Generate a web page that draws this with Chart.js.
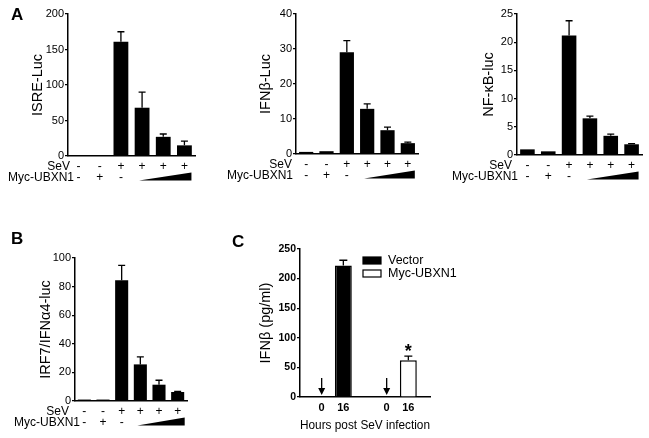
<!DOCTYPE html>
<html lang="en">
<head>
<meta charset="UTF-8">
<title>UBXN1 reporter assays</title>
<script src="https://cdn.jsdelivr.net/npm/chart.js"></script>
<style>
    body { margin: 0; background: #fff; }
    #fig { position: relative; width: 649px; height: 438px; overflow: hidden; }
    #fig canvas { position: absolute; }
</style>
</head>
<body>
<div id="fig">
    <canvas id="isre" width="201" height="190" style="left:0;top:0"></canvas>
    <canvas id="ifnb" width="209" height="190" style="left:215px;top:0"></canvas>
    <canvas id="nfkb" width="219" height="190" style="left:430px;top:0"></canvas>
    <canvas id="irf7" width="200" height="223" style="left:0;top:215px"></canvas>
    <canvas id="elisa" width="429" height="223" style="left:220px;top:215px"></canvas>
</div>
<script>
// treatment rows under panels A and B
const sevSigns = ['-', '-', '+', '+', '+', '+'];
const mycSigns = ['-', '+', '-', '', '', ''];
const doseRamp = [3, 5]; // Myc-UBXN1 increasing doses over these groups
const rowNames = ['SeV', 'Myc-UBXN1'];

// panel A / B values (mean, SEM)
const isreMean = [1, 0.5, 161, 68, 27, 15];
const isreErr  = [0, 0, 14, 22, 4, 6];
const ifnbMean = [0.6, 0.8, 29.1, 12.9, 6.8, 3.1];
const ifnbErr  = [0, 0, 3.3, 1.4, 0.9, 0.3];
const nfkbMean = [1.0, 0.65, 21.2, 6.5, 3.4, 1.9];
const nfkbErr  = [0, 0, 2.6, 0.4, 0.3, 0.1];
const irf7Mean = [1, 1, 84.5, 25.6, 11.4, 6.3];
const irf7Err  = [0, 0, 10.4, 5.2, 3.1, 0.5];

// panel C
const hourLabels = ['', '0', '16', '', '0', '16', ''];
const vectorIfn  = [null, 0, 222, null, null, null, null];
const vectorErr  = [null, 0, 9, null, null, null, null];
const mycIfn     = [null, null, null, null, 0, 62, null];
const mycErr     = [null, null, null, null, 0, 7, null];
const sigMarks   = ['', '', '', '', '', '*', ''];

Chart.defaults.font.family = "'Liberation Sans', Arial, sans-serif";
Chart.defaults.color = '#000';
Chart.defaults.animation = false;

const ROW_PAD = 5; // gap between x axis and first treatment row

function drawErrors(chart, errs, cap) {
    const ctx = chart.ctx, y = chart.scales.y;
    chart.data.datasets.forEach((ds, di) => {
        const meta = chart.getDatasetMeta(di);
        meta.data.forEach((bar, i) => {
            const v = ds.data[i], e = errs[di][i];
            if (v == null || !e) return;
            const yt = y.getPixelForValue(v + e);
            ctx.lineWidth = 1.3;
            ctx.beginPath();
            ctx.moveTo(bar.x, bar.y);
            ctx.lineTo(bar.x, yt);
            ctx.moveTo(bar.x - cap, yt);
            ctx.lineTo(bar.x + cap, yt);
            ctx.stroke();
        });
    });
}

function yAxis(max, step, title, titlePad, tickFont) {
    return {
        min: 0, max: max,
        ticks: { stepSize: step, padding: 1, font: tickFont },
        grid: { drawOnChartArea: false, tickLength: 3, color: '#000', lineWidth: 1.2 },
        border: { color: '#000', width: 1.5 },
        title: { display: true, text: title, font: { size: 14.5 }, padding: { top: titlePad, bottom: 0 } },
        afterFit: s => { s.width = s.chart.options.yWidth; }
    };
}

// panels A and B
function assayPanel(id, mean, err, max, step, title, g) {
    const labels = sevSigns.map((s, i) => [s, mycSigns[i]]);
    const extras = {
        id: 'extras',
        afterDraw(chart) {
            const ctx = chart.ctx, x = chart.scales.x, a = chart.chartArea;
            ctx.save();
            ctx.fillStyle = '#000';
            ctx.strokeStyle = '#000';
            drawErrors(chart, [err], 3.5);
            const rowY = r => a.bottom + ROW_PAD + 11 * (r + 0.5);
            ctx.font = "12px 'Liberation Sans', Arial";
            ctx.textAlign = 'right';
            ctx.textBaseline = 'middle';
            ctx.fillText(rowNames[0], a.left + g.sevDx, rowY(0));
            ctx.fillText(rowNames[1], a.left + g.mycDx, rowY(1));
            const x0 = x.getPixelForValue(doseRamp[0]) - 3;
            const x1 = x.getPixelForValue(doseRamp[1]) + 7;
            ctx.beginPath();
            ctx.moveTo(x0, rowY(1) + 3);
            ctx.lineTo(x1, rowY(1) + 3);
            ctx.lineTo(x1, rowY(1) - 5);
            ctx.closePath();
            ctx.fill();
            if (g.letter) {
                ctx.font = "bold 17px 'Liberation Sans', Arial";
                ctx.textAlign = 'left';
                ctx.fillText(g.letter, g.lx, g.ly);
            }
            ctx.restore();
        }
    };
    new Chart(document.getElementById(id), {
        type: 'bar',
        data: {
            labels: labels,
            datasets: [{ data: mean, backgroundColor: '#000', categoryPercentage: 1, barPercentage: 0.7 }]
        },
        options: {
            responsive: false,
            yWidth: g.yWidth,
            layout: { autoPadding: false, padding: { top: g.top, right: g.right, left: 0, bottom: 0 } },
            plugins: { legend: { display: false }, tooltip: { enabled: false } },
            scales: {
                x: {
                    ticks: { autoSkip: false, maxRotation: 0, padding: ROW_PAD, font: { size: 12, lineHeight: 11 / 12 } },
                    grid: { display: true, drawOnChartArea: false, drawTicks: false },
                    border: { color: '#000', width: 1.5 },
                    afterFit: s => { s.height = g.xHeight; }
                },
                y: yAxis(max, step, title, g.titlePad, { size: 11 })
            }
        },
        plugins: [extras]
    });
}

assayPanel('isre', isreMean, isreErr, 200, 50, 'ISRE-Luc',
    { yWidth: 68, top: 14, right: 6, xHeight: 34, titlePad: 29, sevDx: 2, mycDx: 6, letter: 'A', lx: 11, ly: 15 });
assayPanel('ifnb', ifnbMean, ifnbErr, 40, 10, 'IFNβ-Luc',
    { yWidth: 81, top: 14, right: 6, xHeight: 36, titlePad: 42, sevDx: -4, mycDx: -3 });
assayPanel('nfkb', nfkbMean, nfkbErr, 25, 5, 'NF-κB-luc',
    { yWidth: 87, top: 14, right: 7, xHeight: 35, titlePad: 50, sevDx: -5, mycDx: 1 });
assayPanel('irf7', irf7Mean, irf7Err, 100, 20, 'IRF7/IFNα4-luc',
    { yWidth: 75, top: 43, right: 13, xHeight: 37, titlePad: 37, sevDx: -6, mycDx: 5, letter: 'B', lx: 11, ly: 24 });

// panel C
const elisaExtras = {
    id: 'elisaExtras',
    afterDraw(chart) {
        const ctx = chart.ctx, x = chart.scales.x, y = chart.scales.y, a = chart.chartArea;
        ctx.save();
        ctx.fillStyle = '#000';
        ctx.strokeStyle = '#000';
        drawErrors(chart, [vectorErr, mycErr], 4);
        // arrows mark samples with no detectable IFNβ
        chart.data.datasets.forEach(ds => {
            ds.data.forEach((v, i) => {
                if (v !== 0) return;
                const px = x.getPixelForValue(i);
                ctx.lineWidth = 1.3;
                ctx.beginPath();
                ctx.moveTo(px, a.bottom - 19);
                ctx.lineTo(px, a.bottom - 7);
                ctx.stroke();
                ctx.beginPath();
                ctx.moveTo(px - 3.5, a.bottom - 9);
                ctx.lineTo(px + 3.5, a.bottom - 9);
                ctx.lineTo(px, a.bottom - 2);
                ctx.closePath();
                ctx.fill();
            });
        });
        // significance
        ctx.font = "bold 18px 'Liberation Sans', Arial";
        ctx.textAlign = 'center';
        ctx.textBaseline = 'alphabetic';
        sigMarks.forEach((m, i) => {
            if (!m) return;
            const top = y.getPixelForValue(mycIfn[i] + mycErr[i]);
            ctx.fillText(m, x.getPixelForValue(i), top + 1);
        });
        // legend
        ctx.font = "12.5px 'Liberation Sans', Arial";
        ctx.textAlign = 'left';
        ctx.textBaseline = 'middle';
        chart.data.datasets.forEach((ds, i) => {
            const bx = a.left + 63, by = a.top + 8 + i * 13;
            ctx.fillStyle = ds.backgroundColor;
            ctx.fillRect(bx, by, 18, 7);
            ctx.lineWidth = 1.2;
            ctx.strokeRect(bx, by, 18, 7);
            ctx.fillStyle = '#000';
            ctx.fillText(ds.label, bx + 25, by + 3.5);
        });
        ctx.font = "bold 17px 'Liberation Sans', Arial";
        ctx.fillText('C', 12, 27);
        ctx.restore();
    }
};

new Chart(document.getElementById('elisa'), {
    type: 'bar',
    data: {
        labels: hourLabels,
        datasets: [
            { label: 'Vector', data: vectorIfn, backgroundColor: '#000', borderColor: '#000', borderWidth: 1.5 },
            { label: 'Myc-UBXN1', data: mycIfn, backgroundColor: '#fff', borderColor: '#000', borderWidth: 1.5 }
        ]
    },
    options: {
        responsive: false,
        yWidth: 80,
        grouped: false,
        categoryPercentage: 1,
        barPercentage: 0.78,
        layout: { autoPadding: false, padding: { top: 34, right: 219, left: 0, bottom: 0 } },
        plugins: { legend: { display: false }, tooltip: { enabled: false } },
        scales: {
            x: {
                offset: false,
                ticks: { autoSkip: false, maxRotation: 0, padding: 4, font: { size: 11, weight: 'bold' } },
                grid: { display: true, offset: false, drawOnChartArea: false, drawTicks: false },
                border: { color: '#000', width: 1.5 },
                title: { display: true, text: 'Hours post SeV infection', font: { size: 12 }, padding: { top: 0, bottom: 5.5 } },
                afterFit: s => { s.height = 41; }
            },
            y: yAxis(250, 50, 'IFNβ (pg/ml)', 37, { size: 10.5, weight: 'bold' })
        }
    },
    plugins: [elisaExtras]
});
</script>
</body>
</html>
